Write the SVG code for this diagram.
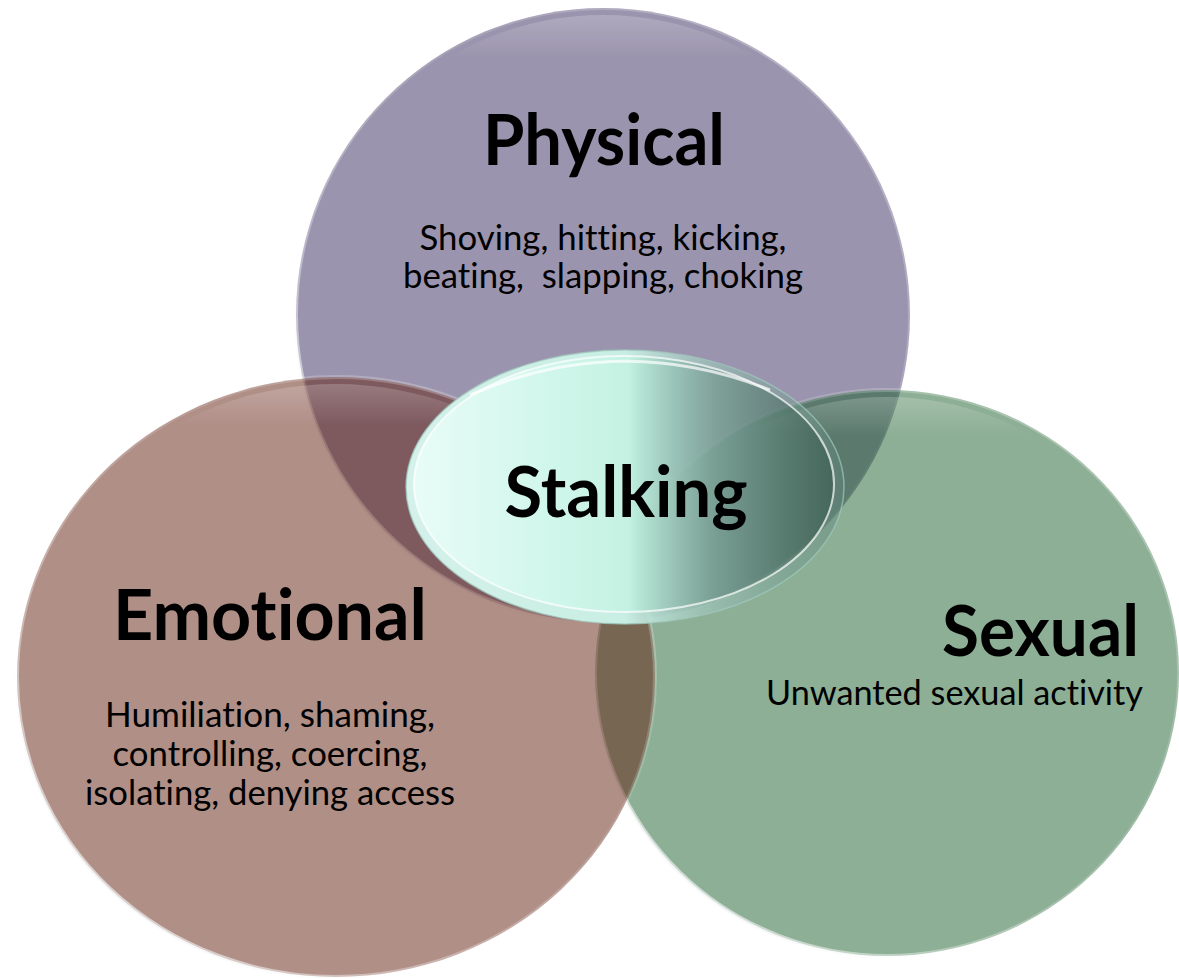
<svg xmlns="http://www.w3.org/2000/svg" width="1179" height="978" viewBox="0 0 1179 978">
  <style>
    .head { font-family: Lato, "Open Sans", "Liberation Sans", sans-serif; font-weight: 700; font-size: 70px; fill: #000; font-variant-ligatures: none; }
    .body { font-family: Lato, "Open Sans", "Liberation Sans", sans-serif; font-weight: 400; font-size: 34px; fill: #000; white-space: pre; font-variant-ligatures: none; }
    .disc { fill-opacity: 0.5; stroke: url(#rim); stroke-width: 4; }
  </style>
  <defs>
    <linearGradient id="rim" x1="0" y1="1" x2="1" y2="0">
      <stop offset="0" stop-color="#e4e8ea" stop-opacity="0.95"/>
      <stop offset="0.3" stop-color="#ffffff" stop-opacity="0.35"/>
      <stop offset="0.6" stop-color="#ffffff" stop-opacity="0.12"/>
      <stop offset="1" stop-color="#ffffff" stop-opacity="0.35"/>
    </linearGradient>
    <linearGradient id="topGloss" x1="0" y1="0" x2="0" y2="1">
      <stop offset="0" stop-color="#ffffff" stop-opacity="0.2"/>
      <stop offset="0.07" stop-color="#ffffff" stop-opacity="0"/>
    </linearGradient>
    <linearGradient id="plateFill" x1="0" y1="0" x2="1" y2="0">
      <stop offset="0" stop-color="#d4f1ea"/>
      <stop offset="0.5" stop-color="#c8eee3"/>
      <stop offset="0.7" stop-color="#9cc2b8" stop-opacity="0.7"/>
      <stop offset="1" stop-color="#5f857a" stop-opacity="0.45"/>
    </linearGradient>
    <linearGradient id="stalkFill" x1="0" y1="0" x2="1" y2="0">
      <stop offset="0" stop-color="#e8fcf6"/>
      <stop offset="0.3" stop-color="#d2f7ec"/>
      <stop offset="0.51" stop-color="#c4f1e2"/>
      <stop offset="0.53" stop-color="#b8e9d9" stop-opacity="0.95"/>
      <stop offset="0.72" stop-color="#6f958a" stop-opacity="0.62"/>
      <stop offset="1" stop-color="#2c4d42" stop-opacity="0.5"/>
    </linearGradient>
  </defs>

  <g id="physical">
    <ellipse class="disc" cx="603" cy="315" rx="307" ry="307" fill="#37295d"/>
    <ellipse cx="603" cy="315" rx="300" ry="300" fill="url(#topGloss)"/>
    <text class="head" x="604" y="165" text-anchor="middle" textLength="242" lengthAdjust="spacingAndGlyphs">Physical</text>
    <text class="body" x="603" y="250" text-anchor="middle" textLength="367" lengthAdjust="spacingAndGlyphs">Shoving, hitting, kicking,</text>
    <text class="body" x="603" y="288" text-anchor="middle" textLength="400" lengthAdjust="spacingAndGlyphs" xml:space="preserve">beating,  slapping, choking</text>
  </g>

  <g id="sexual">
    <ellipse class="disc" cx="887" cy="673" rx="292" ry="283" fill="#1b5f2b"/>
    <ellipse cx="887" cy="673" rx="285" ry="276" fill="url(#topGloss)"/>
    <text class="head" x="1139" y="656" text-anchor="end" textLength="197" lengthAdjust="spacingAndGlyphs">Sexual</text>
    <text class="body" x="1143" y="705" text-anchor="end" textLength="377" lengthAdjust="spacingAndGlyphs">Unwanted sexual activity</text>
  </g>

  <g id="emotional">
    <ellipse class="disc" cx="336" cy="677" rx="319" ry="300" fill="#611f0f"/>
    <ellipse cx="336" cy="677" rx="312" ry="293" fill="url(#topGloss)"/>
    <text class="head" x="270" y="640" text-anchor="middle" textLength="314" lengthAdjust="spacingAndGlyphs">Emotional</text>
    <text class="body" x="270" y="727" text-anchor="middle" textLength="330" lengthAdjust="spacingAndGlyphs">Humiliation, shaming,</text>
    <text class="body" x="270" y="766" text-anchor="middle" textLength="315" lengthAdjust="spacingAndGlyphs">controlling, coercing,</text>
    <text class="body" x="270" y="805" text-anchor="middle" textLength="370" lengthAdjust="spacingAndGlyphs">isolating, denying access</text>
  </g>

  <g id="connectors"></g>

  <g id="stalking">
    <ellipse cx="625" cy="487" rx="219" ry="137" fill="url(#plateFill)" stroke="#9fc9bd" stroke-opacity="0.7" stroke-width="1.5"/>
    <ellipse cx="624" cy="484" rx="210" ry="128" fill="url(#stalkFill)" stroke="#ffffff" stroke-opacity="0.7" stroke-width="2"/>
    <path d="M 470 395 Q 620 330 770 390" fill="none" stroke="#ffffff" stroke-opacity="0.7" stroke-width="3"/>
    <text class="head" x="626" y="517" text-anchor="middle" textLength="243" lengthAdjust="spacingAndGlyphs">Stalking</text>
  </g>
</svg>
